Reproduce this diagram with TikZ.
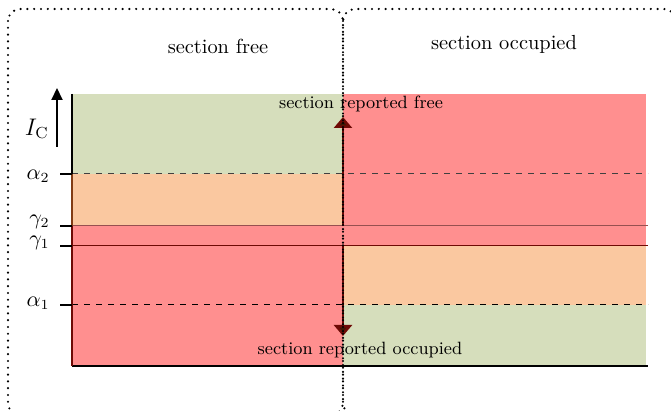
\documentclass[tikz,border=0pt]{standalone}
\usetikzlibrary{arrows.meta}
\definecolor{zgreen}{RGB}{214,222,188}
\definecolor{zorange}{RGB}{250,200,160}
\definecolor{zred}{RGB}{255,143,143}
\definecolor{zdark}{RGB}{110,10,5}
\definecolor{zhead}{RGB}{60,25,5}
\definecolor{zgline}{RGB}{150,80,80}
\definecolor{zbrown}{RGB}{130,60,20}
\tikzset{
  sectionbox/.style={draw=black, line width=1.2pt, line cap=round, dash pattern=on 0pt off 3.4pt, rounded corners=6pt},
  title/.style={font=\fontsize{10.2}{12}\selectfont, inner sep=0pt},
  reptext/.style={font=\fontsize{8.9}{10}\selectfont, inner sep=1pt},
  lvl/.style={font=\fontsize{10.5}{12}\selectfont, inner sep=0pt, anchor=east},
  tick/.style={line width=1.1pt},
  thr/.style={line width=0.5pt},
  reparrow/.style={draw=zdark, line width=1.3pt, -{Triangle[length=5.5pt,width=9pt,fill=zhead]}}
}
\begin{document}
\begin{tikzpicture}[x=0.5pt,y=-0.5pt]
\useasboundingbox (0,0) rectangle (671,411);
% fills left
\fill[zgreen] (72,94) rectangle (343,174);
\fill[zorange] (72,174) rectangle (343,226);
\fill[zred] (72,226) rectangle (343,366);
% fills right
\fill[zred] (343,94) rectangle (646,246);
\fill[zorange] (343,246) rectangle (646,305);
\fill[zgreen] (343,305) rectangle (646,366);
% threshold lines
\coordinate (a2l) at (72,174); \coordinate (a2r) at (648,174);
\coordinate (g2l) at (72,226); \coordinate (g2r) at (648,226);
\coordinate (g1l) at (72,246); \coordinate (g1r) at (648,246);
\coordinate (a1l) at (72,305); \coordinate (a1r) at (648,305);
\draw[thr, dashed, black!75] (a2l) -- (a2r);
\draw[thr, zgline] (g2l) -- (g2r);
\draw[thr, zdark] (g1l) -- (g1r);
\draw[thr, dashed, black] (a1l) -- (a1r);
% axes
\coordinate (ax0) at (72,366);
\coordinate (axr) at (648,366);
\coordinate (axt) at (72,94);
\draw[line width=0.8pt] (ax0) -- (axr);
\draw[line width=0.6pt] (axt) -- (a2l);
\draw[line width=1.2pt, zbrown] (a2l) -- (g2l);
\draw[line width=1.2pt, zdark] (g2l) -- (ax0);
% ticks and labels
\coordinate (ta2) at (60,174); \coordinate (tg2) at (60,226);
\coordinate (tg1) at (60,246); \coordinate (ta1) at (60,305);
\draw[tick] (ta2) -- (a2l);
\draw[tick] (tg2) -- (g2l);
\draw[tick] (tg1) -- (g1l);
\draw[tick] (ta1) -- (a1l);
\node[lvl] (la2) at (50,176) {$\alpha_2$};
\node[lvl] (lg2) at (50,222) {$\gamma_2$};
\node[lvl] (lg1) at (50,243) {$\gamma_1$};
\node[lvl] (la1) at (50,303) {$\alpha_1$};
% current axis arrow
\coordinate (ic0) at (57,147);
\coordinate (ic1) at (57,88);
\draw[line width=1pt, -{Triangle[length=6pt,width=5.5pt]}] (ic0) -- (ic1);
\node[lvl, font=\fontsize{12}{14}\selectfont] (ic) at (49,129) {$I_{\mathrm{C}}$};
% report arrows
\coordinate (up0) at (343,226);
\coordinate (up1) at (343,117);
\coordinate (dn0) at (343,246);
\coordinate (dn1) at (343,336);
\draw[reparrow] (up0) -- (up1);
\draw[reparrow] (dn0) -- (dn1);
\node[reptext] (rf) at (361,104) {section reported free};
\node[reptext] (ro) at (360,350) {section reported occupied};
% section boxes
\draw[sectionbox] (8,9) rectangle (343,415);
\draw[sectionbox] (343,9) rectangle (676,415);
\node[title] (sf) at (218,46) {section free};
\node[title] (so) at (504,44) {section occupied};
\end{tikzpicture}
\end{document}
